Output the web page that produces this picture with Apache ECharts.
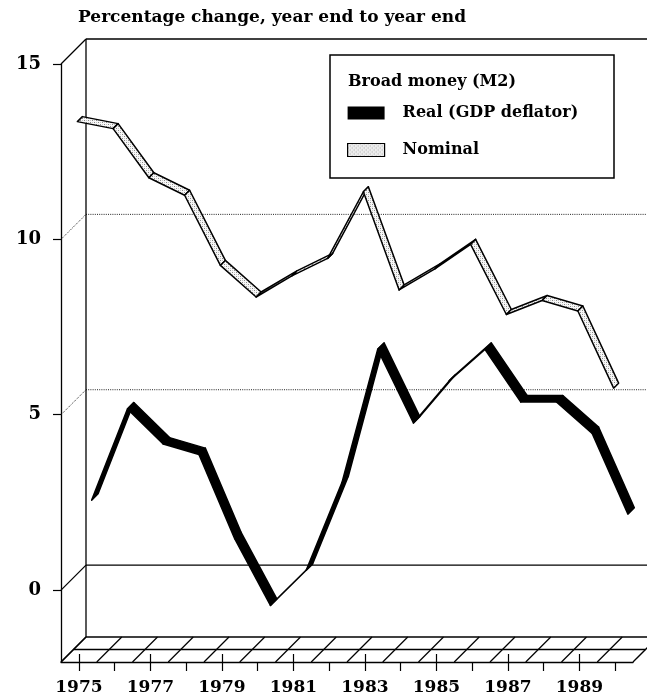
<!DOCTYPE html>
<html>
<head>
<meta charset="utf-8">
<script src="https://cdn.jsdelivr.net/npm/echarts@6/dist/echarts.min.js"></script>
<style>
  html, body { margin: 0; padding: 0; background: #fff; }
  #chart { width: 647px; height: 696px; }
</style>
</head>
<body>
<div id="chart"></div>
<script>
// Broad money (M2) growth, percentage change year end to year end
const years = [1975, 1976, 1977, 1978, 1979, 1980, 1981, 1982, 1983, 1984, 1985, 1986, 1987, 1988, 1989, 1990];
const realGrowth = [2.2, 4.8, 3.8, 3.5, 1.1, -0.8, 0.2, 2.7, 6.5, 4.4, 5.6, 6.5, 5.0, 5.0, 4.1, 1.8];
const nominalGrowth = [13.4, 13.2, 11.8, 11.3, 9.3, 8.4, 9.0, 9.5, 11.4, 8.6, 9.2, 9.9, 7.9, 8.3, 8.0, 5.8];
const yTickValues = [0, 5, 10, 15];
const xLabelYears = [1975, 1977, 1979, 1981, 1983, 1985, 1987, 1989];
const seriesNames = ['Real (GDP deflator)', 'Nominal'];
const titleText = 'Percentage change, year end to year end';
const legendTitle = 'Broad money (M2)';

const FONT = 'DejaVu Serif';
const Y_MIN = -2.05, Y_MAX = 15;
const X_MIN = 1974.5, X_MAX = 1990.5;
const DEPTH = 25;          // oblique depth of the box, px
const GRID = { left: 61, top: 64, width: 572, height: 598 };

// light stipple used for the nominal ribbon face
function stipple() {
  const c = document.createElement('canvas');
  c.width = 4; c.height = 4;
  const g = c.getContext('2d');
  g.fillStyle = '#f7f7f7'; g.fillRect(0, 0, 4, 4);
  g.fillStyle = '#8a8a8a'; g.fillRect(0, 0, 1, 1); g.fillRect(2, 2, 1, 1);
  g.fillStyle = '#c8c8c8'; g.fillRect(2, 0, 1, 1); g.fillRect(0, 2, 1, 1);
  return { image: c, repeat: 'repeat' };
}
const stippleFill = stipple();

function segments(vals) {
  const out = [];
  for (let i = 0; i < vals.length - 1; i++) out.push([years[i], vals[i], years[i + 1], vals[i + 1]]);
  return out;
}

// ribbon segment: the line swept back along the oblique depth direction
function ribbon(depth, half, fill) {
  return function (params, api) {
    const a = api.coord([api.value(0), api.value(1)]);
    const b = api.coord([api.value(2), api.value(3)]);
    const d0 = depth - half, d1 = depth + half;
    return {
      type: 'polygon',
      shape: { points: [[a[0] + d0, a[1] - d0], [b[0] + d0, b[1] - d0], [b[0] + d1, b[1] - d1], [a[0] + d1, a[1] - d1]] },
      style: { fill: fill, stroke: '#000', lineWidth: 1.5, lineJoin: 'round' }
    };
  };
}

const chart = echarts.init(document.getElementById('chart'), null, { renderer: 'canvas' });

const option = {
  animation: false,
  backgroundColor: '#fff',
  title: [
    { text: titleText, left: 78, top: 9, padding: 0,
      textStyle: { fontFamily: FONT, fontWeight: 'bold', fontSize: 17, color: '#000' } },
    { text: legendTitle, left: 348, top: 74, padding: 0, z: 12,
      textStyle: { fontFamily: FONT, fontWeight: 'bold', fontSize: 16, color: '#000' } }
  ],
  legend: {
    left: 347, top: 104, orient: 'vertical', padding: 0,
    itemWidth: 37, itemHeight: 13, itemGap: 19, z: 12,
    selectedMode: false,
    textStyle: { fontFamily: FONT, fontWeight: 'bold', fontSize: 16, lineHeight: 16, color: '#000', padding: [2, 0, 0, 13] },
    data: [
      { name: seriesNames[0], icon: 'rect', itemStyle: { color: '#000', borderWidth: 0 } },
      { name: seriesNames[1], icon: 'rect', itemStyle: { color: stippleFill, borderColor: '#000', borderWidth: 1.2 } }
    ]
  },
  grid: [
    Object.assign({}, GRID),
    Object.assign({}, GRID)
  ],
  xAxis: [
    {
      type: 'value', gridIndex: 0, min: X_MIN, max: X_MAX,
      axisLine: { show: true, onZero: false, lineStyle: { color: '#000', width: 1.3 } },
      axisTick: { show: true, length: 9, customValues: years, lineStyle: { color: '#000', width: 1.2 } },
      axisLabel: { customValues: xLabelYears, margin: 17, formatter: v => String(v),
        fontFamily: FONT, fontWeight: 'bold', fontSize: 17, color: '#000' },
      splitLine: { show: false }
    },
    {
      type: 'value', gridIndex: 1, min: X_MIN, max: X_MAX,
      axisLine: { show: false, onZero: false },
      axisTick: { show: true, inside: true, length: 8, customValues: xLabelYears, lineStyle: { color: '#000', width: 1.2 } },
      axisLabel: { show: false },
      splitLine: { show: false }
    }
  ],
  yAxis: [
    {
      type: 'value', gridIndex: 0, min: Y_MIN, max: Y_MAX,
      axisLine: { show: true, onZero: false, lineStyle: { color: '#000', width: 1.3 } },
      axisTick: { show: true, length: 8, customValues: yTickValues, lineStyle: { color: '#000', width: 1.2 } },
      axisLabel: { customValues: yTickValues, margin: 20,
        fontFamily: FONT, fontWeight: 'bold', fontSize: 18, color: '#000' },
      splitLine: { show: false }
    },
    { type: 'value', gridIndex: 1, min: Y_MIN, max: Y_MAX, show: false }
  ],
  series: [
    {
      name: seriesNames[0], type: 'custom', xAxisIndex: 0, yAxisIndex: 0, z: 5,
      itemStyle: { color: '#000' },
      encode: { x: [0, 2], y: [1, 3] },
      renderItem: ribbon(16, 3.2, '#000'),
      data: segments(realGrowth)
    },
    {
      name: seriesNames[1], type: 'custom', xAxisIndex: 0, yAxisIndex: 0, z: 6,
      itemStyle: { color: stippleFill },
      encode: { x: [0, 2], y: [1, 3] },
      renderItem: ribbon(1, 2.5, stippleFill),
      data: segments(nominalGrowth)
    }
  ]
};

chart.setOption(option);

// back wall, floor and depth connectors of the box
const P = (x, y) => chart.convertToPixel({ gridIndex: 0 }, [x, y]);
const back = (p, f) => [p[0] + DEPTH * (f == null ? 1 : f), p[1] - DEPTH * (f == null ? 1 : f)];
const els = [];
function seg(p, q, dotted, w) {
  els.push({
    type: 'line', z: 1, silent: true,
    shape: { x1: p[0], y1: p[1], x2: q[0], y2: q[1] },
    style: dotted ? { stroke: '#222', lineWidth: 1, lineDash: [1, 1.2] } : { stroke: '#000', lineWidth: w || 1.3 }
  });
}
const RIGHT = 700;
yTickValues.forEach(v => {
  const f = P(X_MIN, v), b = back(f);
  const dotted = v === 5 || v === 10;
  seg(f, b, dotted);
  seg(b, [RIGHT, b[1]], dotted);
});
// left edge of back wall
seg(back(P(X_MIN, Y_MAX)), back(P(X_MIN, Y_MIN)));
// floor
seg(P(X_MIN, Y_MIN), back(P(X_MIN, Y_MIN)));
seg(back(P(X_MIN, Y_MIN)), back(P(X_MAX, Y_MIN)));
seg(back(P(X_MIN, Y_MIN), 0.5), back(P(X_MAX, Y_MIN), 0.5));
for (let x = X_MIN; x <= X_MAX + 1e-6; x += 1) seg(P(x, Y_MIN), back(P(x, Y_MIN)));
// legend frame
els.push({ type: 'rect', z: 11, silent: true, shape: { x: 330, y: 55, width: 284, height: 123 },
  style: { fill: '#fff', stroke: '#000', lineWidth: 1.5 } });

chart.setOption({ graphic: { elements: els } });
</script>
</body>
</html>
